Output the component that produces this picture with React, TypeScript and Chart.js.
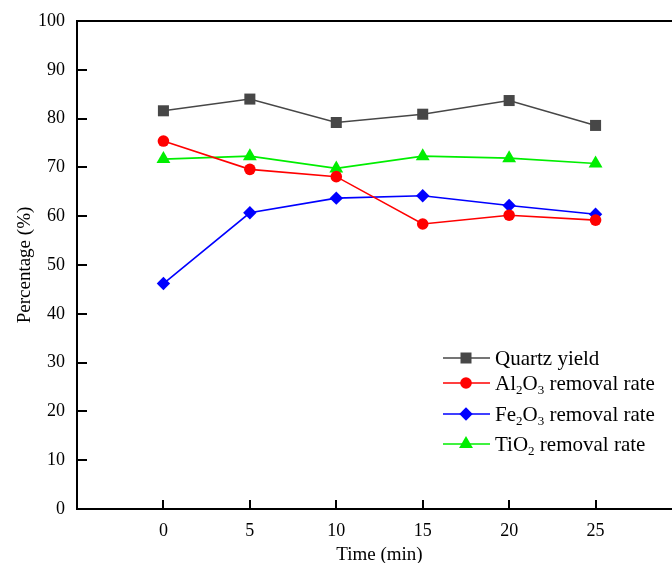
import React, { useEffect, useRef } from 'react';
import { Chart, registerables } from 'chart.js';

Chart.register(...registerables);

const times = [0, 5, 10, 15, 20, 25];
const quartzYield = [81.6, 84.0, 79.2, 80.9, 83.7, 78.6];
const al2o3Removal = [75.4, 69.6, 68.1, 58.4, 60.2, 59.2];
const fe2o3Removal = [46.2, 60.7, 63.7, 64.2, 62.2, 60.4];
const tio2Removal = [71.7, 72.3, 69.8, 72.3, 71.9, 70.8];

const xTickValues = [0, 5, 10, 15, 20, 25];
const yTickValues = [0, 10, 20, 30, 40, 50, 60, 70, 80, 90, 100];

const xTitle = 'Time (min)';
const yTitle = 'Percentage (%)';

type Seg = { t: string; sub?: boolean };
const legendQuartz: Seg[] = [{ t: 'Quartz yield' }];
const legendAl: Seg[] = [{ t: 'Al' }, { t: '2', sub: true }, { t: 'O' }, { t: '3', sub: true }, { t: ' removal rate' }];
const legendFe: Seg[] = [{ t: 'Fe' }, { t: '2', sub: true }, { t: 'O' }, { t: '3', sub: true }, { t: ' removal rate' }];
const legendTi: Seg[] = [{ t: 'TiO' }, { t: '2', sub: true }, { t: ' removal rate' }];

const COLORS = { quartz: '#474747', al: '#ff0000', fe: '#0000ff', ti: '#00ee00' };
const SERIF = '"Liberation Serif", "Times New Roman", serif';

const toXY = (ys: number[]) => times.map((t, i) => ({ x: t, y: ys[i] }));

function drawMarker(ctx: CanvasRenderingContext2D, style: string, x: number, y: number, color: string) {
  ctx.save();
  ctx.fillStyle = color;
  ctx.beginPath();
  if (style === 'rect') {
    const s = 5.5;
    ctx.rect(x - s, y - s, 2 * s, 2 * s);
  } else if (style === 'circle') {
    ctx.arc(x, y, 5.8, 0, Math.PI * 2);
  } else if (style === 'rectRot') {
    const r = 6.7;
    ctx.moveTo(x - r, y);
    ctx.lineTo(x, y - r);
    ctx.lineTo(x + r, y);
    ctx.lineTo(x, y + r);
    ctx.closePath();
  } else if (style === 'triangle') {
    const r = 8;
    ctx.moveTo(x, y - r);
    ctx.lineTo(x + r * 0.866, y + r * 0.5);
    ctx.lineTo(x - r * 0.866, y + r * 0.5);
    ctx.closePath();
  }
  ctx.fill();
  ctx.restore();
}

const framePlugin = {
  id: 'framePlugin',
  afterDraw(chart: any) {
    const { ctx, chartArea } = chart;
    const { left, right, top, bottom } = chartArea;
    const xs = chart.scales.x;
    const ys = chart.scales.y;
    ctx.save();
    ctx.strokeStyle = '#000';
    ctx.lineWidth = 2;
    ctx.beginPath();
    ctx.moveTo(left - 1, top);
    ctx.lineTo(right, top);
    ctx.moveTo(right, top);
    ctx.lineTo(right, bottom);
    ctx.stroke();
    // inward ticks
    ctx.lineWidth = 2;
    ctx.beginPath();
    xs.ticks.forEach((t: any) => {
      const px = Math.round(xs.getPixelForValue(t.value));
      ctx.moveTo(px, bottom);
      ctx.lineTo(px, bottom - 9);
    });
    ys.ticks.forEach((t: any) => {
      const py = Math.round(ys.getPixelForValue(t.value));
      ctx.moveTo(left, py);
      ctx.lineTo(left + 10, py);
    });
    ctx.stroke();

    // legend
    const items: { segs: Seg[]; color: string; style: string; y: number }[] = [
      { segs: legendQuartz, color: COLORS.quartz, style: 'rect', y: 358 },
      { segs: legendAl, color: COLORS.al, style: 'circle', y: 383 },
      { segs: legendFe, color: COLORS.fe, style: 'rectRot', y: 414 },
      { segs: legendTi, color: COLORS.ti, style: 'triangle', y: 444 },
    ];
    items.forEach((it) => {
      ctx.strokeStyle = it.color;
      ctx.lineWidth = 1.6;
      ctx.beginPath();
      ctx.moveTo(443, it.y);
      ctx.lineTo(490, it.y);
      ctx.stroke();
      drawMarker(ctx, it.style, 466, it.y, it.color);
      let tx = 495;
      ctx.fillStyle = '#000';
      ctx.textBaseline = 'alphabetic';
      ctx.textAlign = 'left';
      it.segs.forEach((s) => {
        if (s.sub) {
          ctx.font = `13px ${SERIF}`;
          ctx.fillText(s.t, tx, it.y + 11);
        } else {
          ctx.font = `21px ${SERIF}`;
          ctx.fillText(s.t, tx, it.y + 7);
        }
        tx += ctx.measureText(s.t).width;
      });
    });
    ctx.restore();
  },
};

export default function App() {
  const ref = useRef<HTMLCanvasElement | null>(null);
  useEffect(() => {
    if (!ref.current) return;
    const mk = (label: string, data: number[], color: string, pointStyle: string, radius: number) => ({
      label,
      data: toXY(data),
      borderColor: color,
      backgroundColor: color,
      pointBackgroundColor: color,
      pointBorderColor: color,
      pointBorderWidth: 0,
      pointStyle,
      pointRadius: radius,
      borderWidth: 1.6,
      tension: 0,
    });
    const chart = new Chart(ref.current, {
      type: 'line',
      data: {
        datasets: [
          mk('Quartz yield', quartzYield, COLORS.quartz, 'rect', 7.8),
          mk('Al2O3 removal rate', al2o3Removal, COLORS.al, 'circle', 5.8),
          mk('Fe2O3 removal rate', fe2o3Removal, COLORS.fe, 'rectRot', 6.7),
          mk('TiO2 removal rate', tio2Removal, COLORS.ti, 'triangle', 8),
        ] as any,
      },
      options: {
        responsive: false,
        animation: false,
        layout: { padding: { top: 21, right: 6, left: 0, bottom: 0 } },
        plugins: { legend: { display: false }, tooltip: { enabled: false } },
        scales: {
          x: {
            type: 'linear',
            min: -5,
            max: 30,
            afterBuildTicks: (scale: any) => {
              scale.ticks = xTickValues.map((v) => ({ value: v }));
            },
            afterFit: (scale: any) => {
              scale.height = 54;
            },
            ticks: { color: '#000', font: { family: SERIF, size: 18 }, padding: 3, maxRotation: 0, autoSkip: false },
            grid: { display: false },
            border: { display: true, color: '#000', width: 2 },
            title: { display: true, text: xTitle, color: '#000', font: { family: SERIF, size: 19 }, padding: { top: 0, bottom: -3 } },
          },
          y: {
            type: 'linear',
            min: 0,
            max: 100,
            afterBuildTicks: (scale: any) => {
              scale.ticks = yTickValues.map((v) => ({ value: v }));
            },
            afterFit: (scale: any) => {
              scale.width = 77;
            },
            ticks: { color: '#000', font: { family: SERIF, size: 18 }, padding: 4, autoSkip: false },
            grid: { display: false },
            border: { display: true, color: '#000', width: 2 },
            title: { display: true, text: yTitle, color: '#000', font: { family: SERIF, size: 19 }, padding: { top: 14, bottom: 0 } },
          },
        },
      } as any,
      plugins: [framePlugin],
    });
    return () => chart.destroy();
  }, []);
  return (
    <div style={{ position: 'fixed', left: 0, top: 0, width: 672, height: 563, overflow: 'hidden', background: '#fff' }}>
      <canvas ref={ref} width={690} height={563} style={{ display: 'block' }} />
    </div>
  );
}
